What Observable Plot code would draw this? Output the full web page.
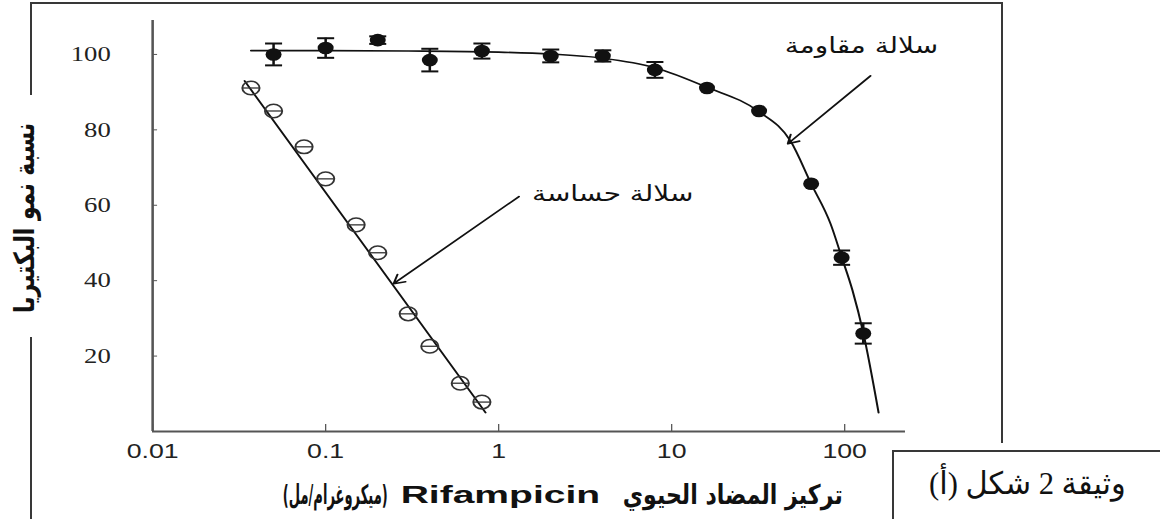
<!DOCTYPE html>
<html><head><meta charset="utf-8">
<script src="https://cdn.jsdelivr.net/npm/d3@7"></script>
<script src="https://cdn.jsdelivr.net/npm/@observablehq/plot@0.6"></script>
<style>
html,body{margin:0;padding:0;background:#fff;}
#wrap{position:relative;width:1160px;height:519px;overflow:hidden;background:#fff;}
#stage{position:absolute;left:0;top:0;height:519px;transform-origin:0 0;}
.ln{position:absolute;background:#383838;}
.lbl{position:absolute;white-space:pre;font-family:"DejaVu Sans",sans-serif;color:#111;line-height:1;}
</style></head><body>
<div id="wrap"><div id="stage"></div></div>
<script>
// ---------- data ----------
const xTicks = [0.01, 0.1, 1, 10, 100];
const yTicks = [20, 40, 60, 80, 100];

// resistant strain (filled circles, mean ± error)
const resX   = [0.05, 0.1, 0.2, 0.4, 0.8, 2, 4, 8, 16, 32, 64, 96, 128];
const resY   = [100, 101.7, 103.8, 98.5, 100.9, 99.6, 99.6, 95.9, 91.1, 85, 65.7, 46.1, 26];
const resErr = [2.9, 2.6, 1.0, 3.0, 2.0, 1.7, 1.5, 2.1, 0, 0, 0, 1.9, 2.7];

// fitted curve through the resistant strain
const resCurveX = [0.037, 0.1, 0.3, 1, 2, 4, 8, 16, 32, 48.7, 64, 83, 96, 111, 128, 157];
const resCurveY = [101, 101, 100.9, 100.6, 100.1, 99.0, 96.5, 91.3, 84.8, 77, 65.7, 55, 46.3, 37.4, 26.2, 5];

// sensitive strain (open circles)
const senX = [0.037, 0.05, 0.075, 0.1, 0.15, 0.2, 0.3, 0.4, 0.6, 0.8];
const senY = [91.1, 85.0, 75.5, 67.0, 54.8, 47.4, 31.2, 22.6, 12.8, 7.8];

// fitted line through the sensitive strain
const senLineX = [0.034, 0.84];
const senLineY = [93, 5];

// annotations
const annText = ["سلالة مقاومة", "سلالة حساسة"];
const annX = [125, 4.56];
const annY = [102.3, 63];
const arrX1 = [141, 1.31];
const arrY1 = [94.3, 62.3];
const arrX2 = [46.9, 0.247];
const arrY2 = [76.3, 39.2];

const yTitle = "نسبة نمو البكتيريا";
const xTitleParts = ["(ميكروغرام/مل)", "Rifampicin", "تركيز المضاد الحيوي"];
const caption = "وثيقة 2 شكل (أ)";

// ---------- build ----------
const S = 1.27;               // the reference is stretched horizontally
const W = 1160 / S;
const stage = document.getElementById("stage");
stage.style.width = W + "px";
stage.style.transform = `scaleX(${S})`;

const res = resX.map((x, i) => ({x, y: resY[i], e: resErr[i]}));
const resBars = res.filter(d => d.e > 0);
const resCaps = resBars.flatMap(d => [{x: d.x, y: d.y - d.e}, {x: d.x, y: d.y + d.e}]);
const resCurve = resCurveX.map((x, i) => ({x, y: resCurveY[i]}));
const sen = senX.map((x, i) => ({x, y: senY[i]}));
const senLine = senLineX.map((x, i) => ({x, y: senLineY[i]}));
const ann = annText.map((t, i) => ({t, x: annX[i], y: annY[i]}));
const arrows = arrX1.map((x1, i) => ({x1, y1: arrY1[i], x2: arrX2[i], y2: arrY2[i]}));

const capSymbol = {draw(ctx, size) { const w = Math.sqrt(size / Math.PI); ctx.moveTo(-w, 0); ctx.lineTo(w, 0); }};

const chart = Plot.plot({
  width: W, height: 519,
  marginLeft: 152 / S, marginRight: (1160 - 905) / S, marginTop: 20, marginBottom: 88,
  x: {type: "log", domain: [0.01, 225]},
  y: {domain: [0, 109]},
  style: {background: "transparent", overflow: "visible", color: "#222"},
  marks: [
    Plot.axisY(yTicks, {tickSize: -4, tickPadding: 37, fontFamily: "Liberation Serif", fontSize: 21, stroke: "#555", fill: "#222", label: null}),
    Plot.axisX(xTicks, {tickSize: -7, tickPadding: 19, tickFormat: d => String(d), fontFamily: "Liberation Sans", fontSize: 21, stroke: "#555", fill: "#222", label: null}),
    Plot.ruleX([0.01], {stroke: "#555", strokeWidth: 2}),
    Plot.ruleY([0], {stroke: "#555", strokeWidth: 2}),
    Plot.line(resCurve, {x: "x", y: "y", curve: "monotone-x", stroke: "#111", strokeWidth: 1.6}),
    Plot.line(senLine, {x: "x", y: "y", stroke: "#111", strokeWidth: 1.6}),
    Plot.ruleX(resBars, {x: "x", y1: d => d.y - d.e, y2: d => d.y + d.e, stroke: "#111", strokeWidth: 2}),
    Plot.dot(resCaps, {x: "x", y: "y", r: 6.7, symbol: capSymbol, stroke: "#111", strokeWidth: 2}),
    Plot.dot(res, {x: "x", y: "y", r: 6.3, fill: "#111", stroke: "none"}),
    Plot.dot(sen, {x: "x", y: "y", r: 6.8, fill: "none", stroke: "#333", strokeWidth: 1.5}),
    Plot.dot(sen, {x: "x", y: "y", r: 6.5, symbol: capSymbol, stroke: "#333", strokeWidth: 1.3}),
    Plot.arrow(arrows, {x1: "x1", y1: "y1", x2: "x2", y2: "y2", stroke: "#111", strokeWidth: 1.6, headLength: 9}),
    Plot.text(ann, {x: "x", y: "y", text: "t", fontSize: 22, fontFamily: "DejaVu Sans", fill: "#111"})
  ]
});
stage.appendChild(chart);

// labels: placed by centre, then squeezed to the width they have in the reference
function addLabel(text, cx, cy, targetLen, style, rotate, dir) {
  const d = document.createElement("div");
  d.className = "lbl";
  d.textContent = text;
  if (dir) d.dir = dir;
  Object.assign(d.style, style);
  d.style.left = (cx / S) + "px";
  d.style.top = cy + "px";
  stage.appendChild(d);
  const natural = d.offsetWidth;
  const want = rotate ? targetLen : targetLen / S;
  const f = want / natural;
  d.style.transform = "translate(-50%,-50%)" + (rotate ? ` rotate(${rotate}deg)` : "") + ` scale(${f},1)`;
}
addLabel(yTitle, 26, 218, 190, {fontSize: "22px", fontWeight: "bold"}, -90, "rtl");
const xa = {fontSize: "27px", fontWeight: "bold", fontFamily: "DejaVu Sans, sans-serif"};
const xe = {fontSize: "24px", fontWeight: "bold", fontFamily: "Liberation Sans, sans-serif"};
addLabel(xTitleParts[0], 335, 494, 105, xa, 0, "rtl");
addLabel(xTitleParts[1], 500, 495, 200, xe, 0, "ltr");
addLabel(xTitleParts[2], 733, 494, 220, xa, 0, "rtl");
addLabel(caption, 1028, 483, 197, {fontSize: "31px", fontFamily: "Liberation Serif, DejaVu Sans, serif"}, 0, "rtl");

// frame lines around the figure
const wrap = document.getElementById("wrap");
function line(l, t, w, h) { const d = document.createElement("div"); d.className = "ln"; Object.assign(d.style, {left: l + "px", top: t + "px", width: w + "px", height: h + "px"}); wrap.appendChild(d); }
line(30, 2, 973, 2);
line(30, 2, 2, 93);
line(30, 337, 2, 182);
line(1001, 2, 2, 441);
const box = document.createElement("div");
Object.assign(box.style, {position: "absolute", left: "892px", top: "450px", width: "300px", height: "100px", border: "2px solid #383838", boxSizing: "border-box"});
wrap.appendChild(box);
</script>
</body></html>
